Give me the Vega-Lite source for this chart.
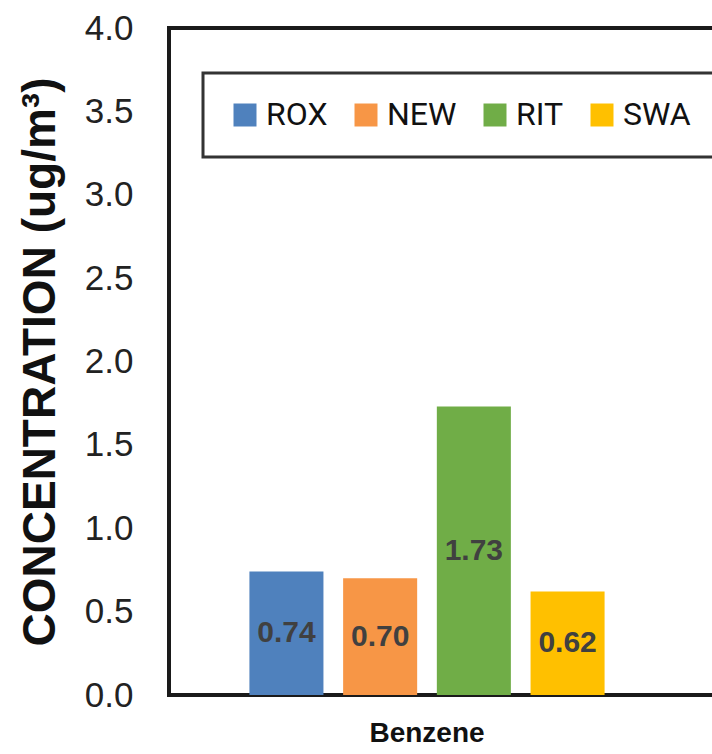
{
  "$schema": "https://vega.github.io/schema/vega-lite/v6.json",
  "width": 560,
  "height": 667,
  "autosize": "none",
  "padding": {"left": 169, "top": 28, "right": 0, "bottom": 59},
  "background": "white",
  "config": {"view": {"stroke": "#1a1a1a", "strokeWidth": 4}, "font": "Liberation Sans", "legend": {"strokeWidth": 3}},
  "data": {"values": [
    {"compound": "Benzene", "site": "ROX", "value": 0.74},
    {"compound": "Benzene", "site": "NEW", "value": 0.70},
    {"compound": "Benzene", "site": "RIT", "value": 1.73},
    {"compound": "Benzene", "site": "SWA", "value": 0.62}
  ]},
  "encoding": {
    "x": {"field": "compound", "type": "nominal",
      "scale": {"range": [0, 516], "paddingInner": 0, "paddingOuter": 0.19},
      "axis": {"title": null, "labelAngle": 0, "labelFontSize": 28, "labelFontWeight": "bold", "labelPadding": 24, "ticks": false, "domain": false, "labelColor": "#111"}},
    "xOffset": {"field": "site", "type": "nominal", "sort": ["ROX", "NEW", "RIT", "SWA"],
      "scale": {"paddingInner": 0.21, "paddingOuter": 0.1}}
  },
  "layer": [
    {
      "mark": {"type": "bar"},
      "encoding": {
        "y": {"field": "value", "type": "quantitative", "scale": {"domain": [0, 4]},
          "axis": {"values": [0, 0.5, 1, 1.5, 2, 2.5, 3, 3.5, 4], "format": ".1f", "grid": false, "ticks": false, "domain": false,
            "labelFontSize": 35, "labelColor": "#222", "labelPadding": 36,
            "title": "CONCENTRATION (ug/m³)", "titleFontSize": 46, "titleFontWeight": "bold", "titleColor": "#111", "titlePadding": 20}},
        "color": {"field": "site", "type": "nominal",
          "scale": {"domain": ["ROX", "NEW", "RIT", "SWA"], "range": ["#4F81BD", "#F79646", "#70AD47", "#FFC000"]},
          "legend": {"title": null, "orient": "none", "legendX": 34, "legendY": 45, "direction": "horizontal",
            "symbolType": "square", "symbolSize": 529, "symbolStrokeWidth": 0, "symbolOpacity": 1,
            "labelFontSize": 32, "labelFont": "Roboto", "labelColor": "#111", "labelOffset": 5,
            "columnPadding": 22, "padding": 26, "strokeColor": "#333", "fillColor": "white", "cornerRadius": 0}}
      }
    },
    {
      "mark": {"type": "text", "fontSize": 30, "fontWeight": "bold", "color": "#404040"},
      "encoding": {
        "y": {"field": "value", "type": "quantitative", "scale": {"domain": [0, 8]}, "axis": null},
        "text": {"field": "value", "type": "quantitative", "format": ".2f"}
      }
    }
  ],
  "resolve": {"scale": {"y": "independent"}}
}
